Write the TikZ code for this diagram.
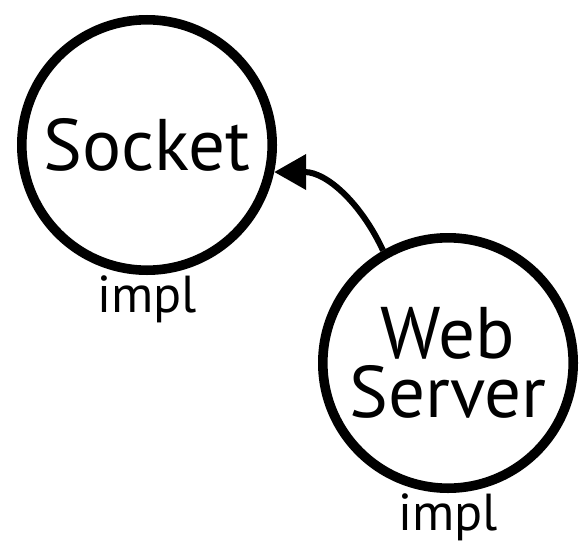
\documentclass[tikz,border=0pt]{standalone}
\usepackage{fontspec}
\setmainfont{PT Sans}
\usetikzlibrary{arrows.meta,positioning}

\begin{document}
\begin{tikzpicture}[
    unit/.style={circle,draw,line width=0.24cm,minimum size=6.26cm,inner sep=0pt,
      align=center,font=\fontsize{52}{42}\selectfont},
    note/.style={inner sep=0pt,font=\fontsize{37}{40}\selectfont}]
  \useasboundingbox (0,0) rectangle (14.5,13.5);
  \node[unit] (sock) at (3.675,9.875) {Socket};
  \node[unit] (web) at (11.2,4.425) {Web\\Server};
  \node[note,below=0.02cm of sock] (sockimpl) {impl};
  \node[note,below=0.02cm of web] (webimpl) {impl};
  % web server uses the socket
  \draw[line width=0.15cm,-{Triangle[length=0.8cm,width=0.86cm]}]
    (web.120) to[out=115,in=0] (sock.-12);
\end{tikzpicture}
\end{document}
